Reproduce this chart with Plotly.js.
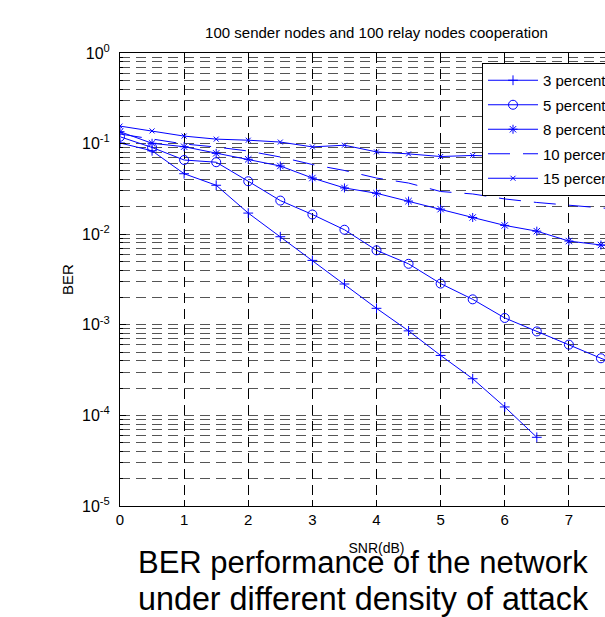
<!DOCTYPE html>
<html><head><meta charset="utf-8">
<script src="https://cdn.plot.ly/plotly-3.0.1.min.js"></script>
<style>html,body{margin:0;padding:0;overflow:hidden;background:#fff}#chart{width:700px;height:617px}</style>
</head><body><div id="chart"></div>
<script>
// SNR (dB) sample points
const snr = [0,0.5,1,1.5,2,2.5,3,3.5,4,4.5,5,5.5,6,6.5,7,7.5,8];
const snr3 = [0,0.5,1,1.5,2,2.5,3,3.5,4,4.5,5,5.5,6,6.5];
// BER values per attack density
const ber3  = [0.1016,0.0833,0.0465,0.0347,0.0171,0.00938,0.00514,0.00282,0.00152,0.000857,0.000459,0.000254,0.000124,0.0000573];
const ber5  = [0.119,0.0906,0.0659,0.0623,0.0384,0.0235,0.0165,0.0112,0.00664,0.00471,0.00285,0.00191,0.00119,0.000845,0.000604,0.000427,0.00031];
const ber8  = [0.1353,0.1008,0.0924,0.0781,0.0671,0.0566,0.0417,0.0324,0.0283,0.0232,0.0189,0.0153,0.0125,0.0108,0.0084,0.0076,0.0071];
const ber10 = [0.1276,0.1124,0.099,0.0917,0.0828,0.0711,0.0588,0.0505,0.0417,0.0367,0.0296,0.0278,0.0245,0.0224,0.0207,0.0195,0.0185];
const ber15 = [0.156,0.138,0.121,0.112,0.109,0.104,0.092,0.096,0.081,0.077,0.072,0.074,0.072,0.070,0.068,0.067,0.065];
const seriesNames = ['3 percent','5 percent','8 percent','10 percent','15 percent'];
const yTickVals = [1e-5,1e-4,1e-3,1e-2,1e-1,1];
const yTickText = ['10<sup>-5</sup>','10<sup>-4</sup>','10<sup>-3</sup>','10<sup>-2</sup>','10<sup>-1</sup>','10<sup>0</sup>'];
const xTickVals = [0,1,2,3,4,5,6,7];
const titleText = '100 sender nodes and 100 relay nodes cooperation';
const captionLines = ['BER performance of the network','under different density of attack'];

const BLUE = 'rgb(0,0,255)';
const FONT = 'Arial, "Liberation Sans", sans-serif';

function tr(x, y, name, symbol, size, dash, grp){
  const t = {
    x: x, y: y, name: name, type: 'scatter',
    mode: symbol ? 'lines+markers' : 'lines',
    legendgroup: grp,
    line: {color: BLUE, width: 1, dash: dash || 'solid'}
  };
  if (symbol) t.marker = {symbol: symbol, size: size, color: BLUE, line: {color: BLUE, width: 1}};
  return t;
}

const data = [
  tr(snr3, ber3, seriesNames[0], 'cross-thin-open', 7, null, 'g1'),
  tr(snr, ber5, seriesNames[1], 'circle-open', 9, null, 'g2'),
  tr(snr, ber8, seriesNames[2], 'asterisk-open', 7.5, null, 'g3'),
  tr(snr, ber10, seriesNames[3], null, 0, '22px,13px', 'g4'),
  tr(snr, ber15, seriesNames[4], 'x-thin-open', 5, null, 'g5')
];

const W = 700, H = 617;
const mL = 120, mR = 67, mT = 53, mB = 111;
const pw = W - mL - mR, ph = H - mT - mB;

const layout = {
  width: W, height: H,
  margin: {l: mL, r: mR, t: mT, b: mB, pad: 0},
  paper_bgcolor: '#fff', plot_bgcolor: '#fff',
  font: {family: FONT, color: '#000', size: 15},
  showlegend: true,
  title: {text: titleText, font: {size: 15, family: FONT, color: '#000'},
          x: 0.5, xref: 'paper', xanchor: 'center', y: 1 - 33/H, yref: 'container', yanchor: 'middle'},
  xaxis: {
    range: [0, 8], tickvals: xTickVals, ticks: 'inside', ticklen: 6, tickcolor: '#000',
    showline: true, linecolor: '#000', linewidth: 1, mirror: 'allticks',
    showgrid: true, gridcolor: '#000', gridwidth: 1, griddash: '10px,6px',
    zeroline: false, tickfont: {size: 15},
    title: {text: 'SNR(dB)', font: {size: 14}, standoff: 16}
  },
  yaxis: {
    type: 'log', range: [-5, 0], tickvals: yTickVals, ticktext: yTickText,
    ticks: 'inside', ticklen: 6, tickcolor: '#000', ticklabelstandoff: 6,
    showline: true, linecolor: '#000', linewidth: 1, mirror: 'allticks',
    showgrid: true, gridcolor: '#555', gridwidth: 1, griddash: '10px,6px',
    zeroline: false, tickfont: {size: 16},
    minor: {dtick: 'D1', showgrid: true, gridcolor: '#555', gridwidth: 1, griddash: '10px,6px', ticks: 'inside', ticklen: 3, tickcolor: '#000'},
    title: {text: 'BER', font: {size: 15}, standoff: 4}
  },
  legend: {
    x: (482 - mL) / pw, y: (H - mB - 63) / ph, xanchor: 'left', yanchor: 'top',
    bgcolor: '#fff', bordercolor: '#000', borderwidth: 1,
    font: {size: 15, family: FONT, color: '#000'},
    traceorder: 'grouped', tracegroupgap: 2, itemwidth: 50
  },
  annotations: [
    {text: captionLines[0], xref: 'paper', yref: 'paper', x: (136 - mL)/pw, y: (H - mB - 562)/ph,
     xanchor: 'left', yanchor: 'middle', showarrow: false, font: {size: 31, family: FONT, color: '#000'}},
    {text: captionLines[1], xref: 'paper', yref: 'paper', x: (136 - mL)/pw, y: (H - mB - 599)/ph,
     xanchor: 'left', yanchor: 'middle', showarrow: false, font: {size: 32.3, family: FONT, color: '#000'}}
  ]
};

Plotly.newPlot('chart', data, layout, {staticPlot: true, displayModeBar: false});
</script>
</body></html>
